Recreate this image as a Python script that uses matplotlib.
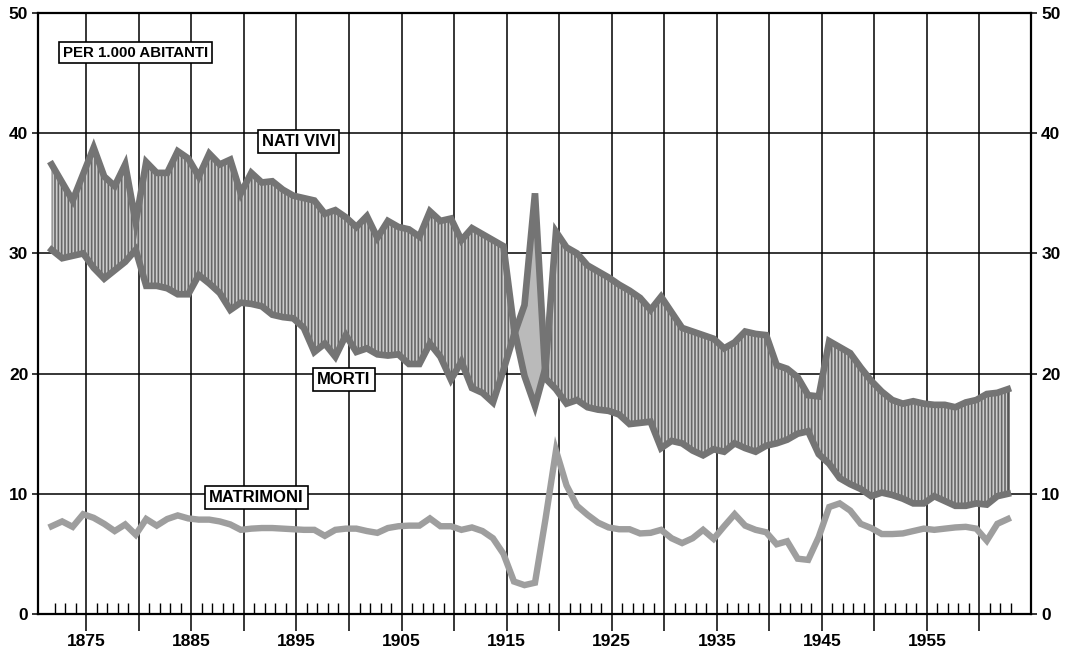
import numpy as np
import matplotlib
matplotlib.use("Agg")
import matplotlib.pyplot as plt

# ---------------- data (per 1,000 inhabitants) ----------------
years = list(range(1872, 1964))

births = [
    37.4, 35.9, 34.4, 36.6, 38.8, 36.4, 35.6, 37.4,            # 1872-1879
    32.6, 37.6, 36.7, 36.7, 38.5, 37.9, 36.4, 38.3, 37.4, 37.8,  # 1880-1889
    35.0, 36.7, 35.9, 36.0, 35.3, 34.8, 34.6, 34.4, 33.3, 33.6,  # 1890-1899
    33.0, 32.2, 33.1, 31.3, 32.7, 32.2, 32.0, 31.4, 33.5, 32.7,  # 1900-1909
    32.9, 31.1, 32.1, 31.6, 31.1, 30.6, 23.8, 19.8, 17.3, 20.5,  # 1910-1919
    31.8, 30.5, 30.0, 29.0, 28.5, 28.0, 27.4, 26.9, 26.3, 25.3,  # 1920-1929
    26.4, 25.1, 23.8, 23.5, 23.2, 22.9, 22.1, 22.6, 23.5, 23.3,  # 1930-1939
    23.2, 20.7, 20.4, 19.7, 18.2, 18.1, 22.7, 22.2, 21.7, 20.5,  # 1940-1949
    19.4, 18.5, 17.8, 17.5, 17.7, 17.5, 17.4, 17.4, 17.2, 17.6,  # 1950-1959
    17.8, 18.3, 18.4, 18.7,                                      # 1960-1963
]

deaths = [
    30.3, 29.6, 29.8, 30.0, 28.8, 27.9, 28.6, 29.3,
    30.3, 27.3, 27.3, 27.1, 26.6, 26.6, 28.2, 27.5, 26.7, 25.3,
    25.9, 25.8, 25.6, 24.9, 24.7, 24.6, 23.8, 21.8, 22.5, 21.4,
    23.2, 21.8, 22.1, 21.6, 21.5, 21.6, 20.8, 20.8, 22.5, 21.4,
    19.5, 21.0, 18.8, 18.4, 17.6, 20.3, 23.2, 25.7, 35.0, 19.6,
    18.7, 17.5, 17.8, 17.2, 17.0, 16.9, 16.6, 15.8, 15.9, 16.0,
    13.8, 14.4, 14.2, 13.6, 13.2, 13.7, 13.5, 14.2, 13.8, 13.5,
    14.0, 14.2, 14.5, 15.0, 15.2, 13.3, 12.5, 11.3, 10.8, 10.4,
    9.8, 10.1, 9.9, 9.6, 9.2, 9.2, 9.8, 9.4, 9.0, 9.0,
    9.2, 9.1, 9.8, 10.0,
]

marriages = [
    7.3, 7.7, 7.25, 8.3, 8.0, 7.5, 6.9, 7.45,
    6.6, 7.9, 7.35, 7.9, 8.2, 7.95, 7.85, 7.85, 7.7, 7.45,
    7.0, 7.1, 7.15, 7.15, 7.1, 7.05, 7.0, 7.0, 6.5, 7.0,
    7.1, 7.1, 6.9, 6.75, 7.15, 7.3, 7.35, 7.35, 7.95, 7.3,
    7.3, 7.0, 7.2, 6.9, 6.3, 5.0, 2.7, 2.4, 2.6, 7.9,
    13.6, 10.7, 9.0, 8.25, 7.6, 7.2, 7.05, 7.05, 6.7, 6.75,
    7.0, 6.3, 5.9, 6.3, 7.0, 6.25, 7.3, 8.3, 7.35, 7.0,
    6.8, 5.8, 6.05, 4.6, 4.5, 6.4, 8.9, 9.2, 8.6, 7.5,
    7.15, 6.65, 6.65, 6.7, 6.9, 7.1, 7.0, 7.1, 7.2, 7.25,
    7.1, 6.1, 7.5, 7.9,
]

grid_years = list(range(1875, 1965, 5))
x_tick_labels = ["1875", "1885", "1895", "1905", "1915", "1925", "1935", "1945", "1955"]
y_ticks = [0, 10, 20, 30, 40, 50]
y_tick_labels = ["0", "10", "20", "30", "40", "50"]

label_unit = "PER 1.000 ABITANTI"
label_births = "NATI VIVI"
label_deaths = "MORTI"
label_marriages = "MATRIMONI"

# ---------------- style ----------------
plt.rcParams["font.family"] = ["Liberation Sans", "DejaVu Sans"]
plt.rcParams["font.weight"] = "bold"
plt.rcParams["hatch.linewidth"] = 1.2

fig = plt.figure(figsize=(10.67, 6.54), dpi=100)
ax = fig.add_axes([0.0356, 0.0612, 0.9311, 0.9189])

# yearly values are plotted slightly before the year tick, as in the original
x = np.array(years, dtype=float) - 0.3
b = np.array(births)
d = np.array(deaths)
m = np.array(marriages)

ax.set_xlim(1870.4, 1964.95)
ax.set_ylim(0, 50)
ax.set_axisbelow(True)

# band between births and deaths
ax.fill_between(x, b, d, where=b >= d, interpolate=True,
                facecolor="#cdcdcd", edgecolor="#666666", hatch="|||||",
                linewidth=0, zorder=2)
ax.fill_between(x, b, d, where=b < d, interpolate=True,
                facecolor="#bababa", linewidth=0, zorder=2)
ax.vlines(x[-1], d[-1], b[-1], color="#555555", lw=1.8, zorder=3)

line_col = "#747474"
ax.plot(x, b, color=line_col, lw=4.8, zorder=4, solid_joinstyle="miter")
ax.plot(x, d, color=line_col, lw=4.8, zorder=4, solid_joinstyle="miter")
ax.plot(x, m, color="#9e9e9e", lw=4.6, zorder=4, solid_joinstyle="miter")

# axes, ticks, grid
minor_years = [yr for yr in years if yr % 5 != 0]
ax.set_xticks(grid_years)
ax.set_xticklabels([str(g) if str(g) in x_tick_labels else "" for g in grid_years])
ax.set_xticks(minor_years, minor=True)
ax.tick_params(axis="x", which="major", direction="out", length=12, width=1.1,
               pad=2.5, labelsize=12.5)
ax.tick_params(axis="x", which="minor", direction="in", length=8, width=1.0)

ax.set_yticks(y_ticks)
ax.set_yticklabels(y_tick_labels)
ax.tick_params(axis="y", which="major", direction="out", length=4, width=1.1,
               pad=3, labelsize=12.5, left=True, right=True,
               labelleft=True, labelright=True)

ax.grid(True, which="major", color="black", lw=1.1)
for s in ax.spines.values():
    s.set_linewidth(1.6)
    s.set_color("black")

box = dict(boxstyle="square,pad=0.25", fc="white", ec="black", lw=1.2)
ax.text(1879.7, 46.7, label_unit, fontsize=10.8, ha="center", va="center",
        bbox=box, zorder=6)
ax.text(1895.2, 39.3, label_births, fontsize=12, ha="center", va="center",
        bbox=box, zorder=6)
ax.text(1899.5, 19.5, label_deaths, fontsize=12, ha="center", va="center",
        bbox=box, zorder=6)
ax.text(1891.2, 9.7, label_marriages, fontsize=12, ha="center", va="center",
        bbox=box, zorder=6)

fig.savefig("out.png", dpi=100)
